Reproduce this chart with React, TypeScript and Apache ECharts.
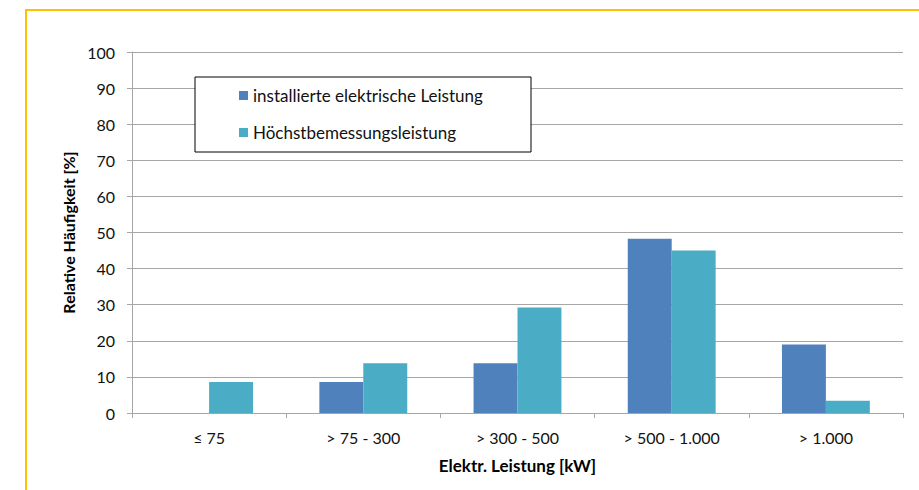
import React, { useEffect, useRef } from "react";
import * as echarts from "echarts";

const categories = ["≤ 75", "> 75 - 300", "> 300 - 500", "> 500 - 1.000", "> 1.000"];
const installiert = [0, 8.6, 13.8, 48.3, 19.0];
const hoechst = [8.6, 13.8, 29.2, 45.0, 3.4];
const seriesNames = ["installierte elektrische Leistung", "Höchstbemessungsleistung"];
const FONT = "Lato";

export default function App() {
  const ref = useRef<HTMLDivElement>(null);
  useEffect(() => {
    document.body.style.margin = "0";
    const chart = echarts.init(ref.current!, null, { renderer: "svg" });
    chart.setOption({
      animation: false,
      backgroundColor: "#ffffff",
      textStyle: { fontFamily: FONT },
      grid: { left: 132, right: 16, top: 52, bottom: 77 },
      graphic: [
        {
          type: "rect",
          shape: { x: 26, y: 10, width: 1000, height: 600 },
          style: { fill: "none", stroke: "#FFC000", lineWidth: 2 },
          z: 1,
        },
        {
          type: "rect",
          shape: { x: 195, y: 77, width: 336, height: 75 },
          style: { fill: "#ffffff", stroke: "#000000", lineWidth: 1 },
          z: 10,
        },
      ],
      legend: {
        orient: "vertical",
        left: 239,
        top: 87,
        padding: 0,
        z: 20,
        itemWidth: 9,
        itemHeight: 9,
        itemGap: 20,
        icon: "rect",
        textStyle: { fontFamily: FONT, fontSize: 17, color: "#111", lineHeight: 17 },
        data: seriesNames,
      },
      xAxis: {
        type: "category",
        data: categories,
        name: "Elektr. Leistung [kW]",
        nameLocation: "middle",
        nameGap: 44,
        nameTextStyle: { fontFamily: FONT, fontSize: 17, fontWeight: "bold", color: "#000" },
        axisLine: { lineStyle: { color: "#A6A6A6", width: 1 } },
        axisTick: { show: true, length: 5, lineStyle: { color: "#A6A6A6" } },
        axisLabel: { fontFamily: FONT, fontSize: 16, color: "#111", margin: 16 },
      },
      yAxis: {
        type: "value",
        min: 0,
        max: 100,
        interval: 10,
        name: "Relative Häufigkeit [%]",
        nameLocation: "middle",
        nameGap: 52,
        nameTextStyle: { fontFamily: FONT, fontSize: 16, fontWeight: "bold", color: "#000" },
        axisLine: { show: true, lineStyle: { color: "#A6A6A6", width: 1 } },
        axisTick: { show: true, length: 5, lineStyle: { color: "#A6A6A6" } },
        axisLabel: { fontFamily: FONT, fontSize: 16, color: "#111", margin: 17 },
        splitLine: { show: true, lineStyle: { color: "#A6A6A6", width: 1 } },
      },
      series: [
        {
          name: seriesNames[0],
          type: "bar",
          data: installiert,
          barGap: "0%",
          barCategoryGap: "43%",
          itemStyle: { color: "#4F81BD" },
        },
        {
          name: seriesNames[1],
          type: "bar",
          data: hoechst,
          barGap: "0%",
          barCategoryGap: "43%",
          itemStyle: { color: "#4BACC6" },
        },
      ],
    });
    return () => chart.dispose();
  }, []);
  return <div ref={ref} style={{ position: "fixed", left: 0, top: 0, width: 919, height: 490 }} />;
}
